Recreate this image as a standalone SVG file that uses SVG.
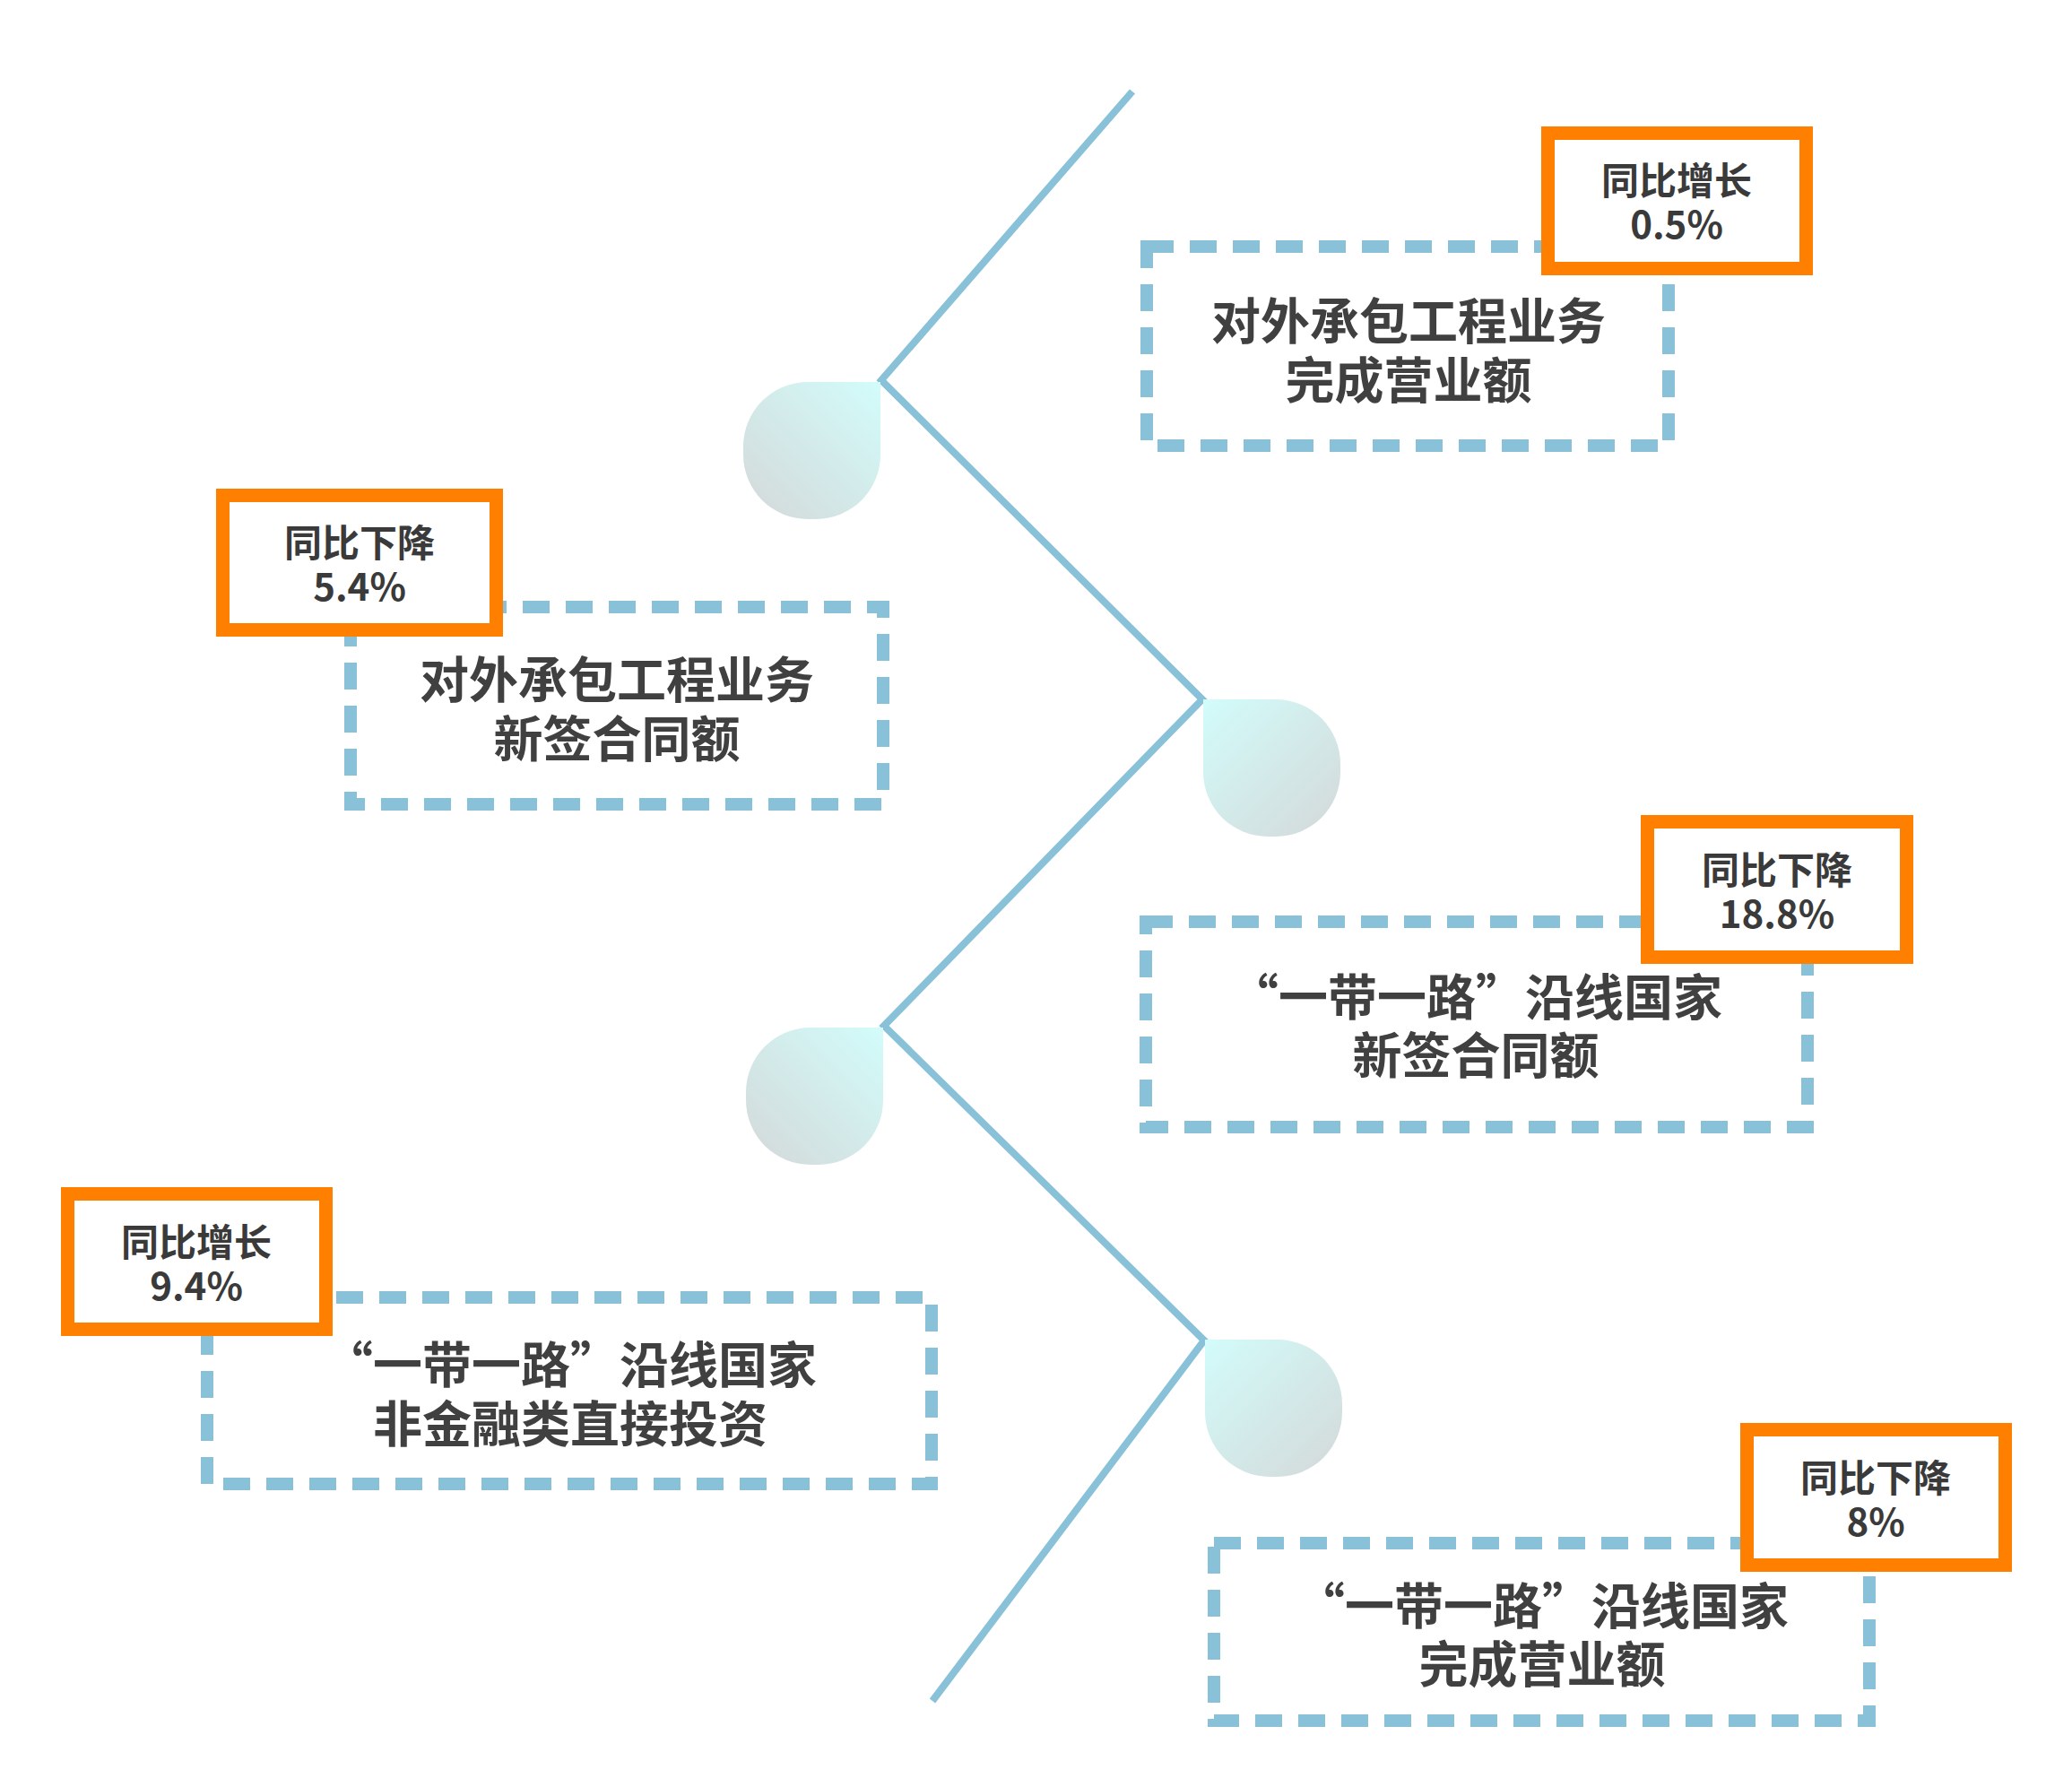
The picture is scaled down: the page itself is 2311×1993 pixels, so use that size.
<svg xmlns="http://www.w3.org/2000/svg" width="2311" height="1993" viewBox="0 0 2311 1993">
<defs>
<style>
.dash{fill:none;stroke:#89C2D8;stroke-width:14;stroke-dasharray:30 18}
.tag{fill:#FFFFFF;stroke:#FF8000;stroke-width:15}
.main{font-family:"Noto Sans CJK SC","Noto Sans",sans-serif;font-weight:bold;font-size:55px;fill:#404040;text-anchor:middle}
.small{font-family:"Noto Sans CJK SC","Noto Sans",sans-serif;font-weight:bold;font-size:42px;fill:#3A3A3A;text-anchor:middle}
.link{fill:none;stroke:#89C2D8;stroke-width:8;stroke-linejoin:miter}
</style>
<linearGradient id="gA" x1="1" y1="0" x2="0" y2="1">
<stop offset="0" stop-color="#D2FCFA"/>
<stop offset="1" stop-color="#D4D8D9"/>
</linearGradient>
<linearGradient id="gB" x1="0" y1="0" x2="1" y2="1">
<stop offset="0" stop-color="#D2FCFA"/>
<stop offset="1" stop-color="#D4D8D9"/>
</linearGradient>
<path id="dropA" d="M153,0 V81 A72,72 0 0 1 81,153 H72 A72,72 0 0 1 0,81 V72 A72,72 0 0 1 72,0 Z" fill="url(#gA)"/>
<path id="dropB" d="M0,0 H81 A72,72 0 0 1 153,72 V81 A72,72 0 0 1 81,153 H72 A72,72 0 0 1 0,81 Z" fill="url(#gB)"/>
</defs>
<rect width="2311" height="1993" fill="#FFFFFF"/>

<g id="connectors">
<polyline class="link" points="1263,102 983,424 1341,780 986,1144 1343,1495 1040,1897"/>
</g>

<g id="drop1"><use href="#dropA" x="829" y="426"/></g>
<g id="drop2"><use href="#dropB" x="1342" y="780"/></g>
<g id="drop3"><use href="#dropA" x="832" y="1146"/></g>
<g id="drop4"><use href="#dropB" x="1344" y="1494"/></g>

<g id="node1">
<rect class="dash" x="1279" y="275" width="582" height="222"/>
<text class="main"><tspan x="1571" y="378">对外承包工程业务</tspan><tspan x="1571" y="444">完成营业额</tspan></text>
</g>
<g id="tag1">
<rect class="tag" x="1726.5" y="148.5" width="288" height="151"/>
<text class="small"><tspan x="1870" y="217">同比增长</tspan><tspan x="1870" y="266">0.5%</tspan></text>
</g>

<g id="node2">
<rect class="dash" x="391" y="677" width="594" height="220"/>
<text class="main"><tspan x="688" y="778">对外承包工程业务</tspan><tspan x="688" y="844">新签合同额</tspan></text>
</g>
<g id="tag2">
<rect class="tag" x="248.5" y="552.5" width="305" height="150"/>
<text class="small"><tspan x="401" y="621">同比下降</tspan><tspan x="401" y="670">5.4%</tspan></text>
</g>

<g id="node3">
<rect class="dash" x="1278" y="1028" width="738" height="229"/>
<text class="main"><tspan x="1646" y="1132">“一带一路”沿线国家</tspan><tspan x="1646" y="1197">新签合同额</tspan></text>
</g>
<g id="tag3">
<rect class="tag" x="1837.5" y="916.5" width="289" height="151"/>
<text class="small"><tspan x="1982" y="986">同比下降</tspan><tspan x="1982" y="1035">18.8%</tspan></text>
</g>

<g id="node4">
<rect class="dash" x="231" y="1447" width="808" height="208"/>
<text class="main"><tspan x="636" y="1542">“一带一路”沿线国家</tspan><tspan x="636" y="1608">非金融类直接投资</tspan></text>
</g>
<g id="tag4">
<rect class="tag" x="75.5" y="1331.5" width="288" height="151"/>
<text class="small"><tspan x="219" y="1401">同比增长</tspan><tspan x="219" y="1450">9.4%</tspan></text>
</g>

<g id="node5">
<rect class="dash" x="1354" y="1721" width="731" height="198"/>
<text class="main"><tspan x="1720" y="1811">“一带一路”沿线国家</tspan><tspan x="1720" y="1876">完成营业额</tspan></text>
</g>
<g id="tag5">
<rect class="tag" x="1948.5" y="1594.5" width="288" height="151"/>
<text class="small"><tspan x="2092" y="1664">同比下降</tspan><tspan x="2092" y="1713">8%</tspan></text>
</g>
</svg>
